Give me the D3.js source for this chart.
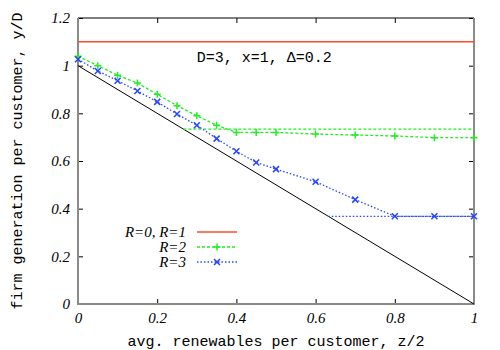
<!DOCTYPE html>
<html>
<head>
<meta charset="utf-8">
<script src="https://cdn.jsdelivr.net/npm/d3@7"></script>
<style>
  body { margin: 0; background: #fff; }
</style>
</head>
<body>
<svg width="500" height="350"></svg>
<script>
'use strict'

// values
var xTicks = [0, 0.2, 0.4, 0.6, 0.8, 1];
var yTicks = [0, 0.2, 0.4, 0.6, 0.8, 1, 1.2];

var zs = [0, 0.05, 0.1, 0.15, 0.2, 0.25, 0.3, 0.35, 0.4, 0.45, 0.5, 0.6, 0.7, 0.8, 0.9, 1];
var r2 = [1.04, 1.0, 0.96, 0.927, 0.88, 0.832, 0.79, 0.75, 0.72, 0.72, 0.72, 0.713, 0.709, 0.705, 0.698, 0.698];
var r3 = [1.027, 0.978, 0.937, 0.894, 0.848, 0.797, 0.75, 0.694, 0.641, 0.594, 0.566, 0.513, 0.438, 0.368, 0.368, 0.368];

var r01 = [[0, 1.1], [1, 1.1]];
var noStorage = [[0, 1], [1, 0]];
var r2Floor = [[0.266, 0.734], [1, 0.734]];
var r3Floor = [[0.632, 0.368], [1, 0.368]];

var legendLabels = ["R=0, R=1", "R=2", "R=3"];

var serif = "'Liberation Serif', 'Times New Roman', serif";
var mono = "'Liberation Mono', 'Courier New', monospace";

var svg = d3.select("svg"),
  margin = {top: 18, right: 26, bottom: 46, left: 78},
  width = +svg.attr("width") - margin.left - margin.right,
  height = +svg.attr("height") - margin.top - margin.bottom;

var x = d3.scaleLinear().domain([0, 1]).range([0, width]),
  y = d3.scaleLinear().domain([0, 1.2]).range([height, 0]);

var g = svg.append("g")
  .attr("transform", "translate(" + margin.left + "," + margin.top + ")");

var fmt = function(d) { return String(+d.toFixed(1)); };

// axes, ticks pointing inward on all four sides
g.append("g")
  .attr("transform", "translate(0," + height + ")")
  .call(d3.axisBottom(x).tickValues(xTicks).tickFormat(fmt).tickSizeInner(-5).tickSizeOuter(0).tickPadding(8));
g.append("g")
  .call(d3.axisLeft(y).tickValues(yTicks).tickFormat(fmt).tickSizeInner(-5).tickSizeOuter(0).tickPadding(8));
g.append("g")
  .call(d3.axisTop(x).tickValues(xTicks).tickFormat("").tickSizeInner(-5).tickSizeOuter(0));
g.append("g")
  .attr("transform", "translate(" + width + ",0)")
  .call(d3.axisRight(y).tickValues(yTicks).tickFormat("").tickSizeInner(-5).tickSizeOuter(0));
g.selectAll(".domain").remove();
g.selectAll(".tick line").attr("stroke", "#000");
g.selectAll(".tick text")
  .attr("fill", "#000")
  .style("font-family", serif)
  .style("font-style", "italic")
  .style("font-size", "15px");

// frame
g.append("line").attr("x1", 0).attr("x2", width).attr("y1", 0).attr("y2", 0)
  .attr("stroke", "#000").attr("stroke-width", 1);
g.append("path")
  .attr("d", "M0,0V" + height + "H" + width + "V0")
  .attr("fill", "none").attr("stroke", "#8a8a8a").attr("stroke-width", 2);

var line = d3.line()
  .x(function(d) { return x(d[0]); })
  .y(function(d) { return y(d[1]); });

var pts2 = zs.map(function(z, i) { return [z, r2[i]]; });
var pts3 = zs.map(function(z, i) { return [z, r3[i]]; });

var red = "#ff4b2b", green = "#22ee22", blue = "#2545ff";

g.append("path").attr("d", line(noStorage))
  .attr("fill", "none").attr("stroke", "#000").attr("stroke-width", 1);

g.append("path").attr("d", line(r01))
  .attr("fill", "none").attr("stroke", red).attr("stroke-width", 1.5);

function drawSeries(pts, floor, color, dash, marker) {
  g.append("path").attr("d", line(floor))
    .attr("fill", "none").attr("stroke", color).attr("stroke-width", 1.3)
    .attr("stroke-dasharray", dash);
  g.append("path").attr("d", line(pts))
    .attr("fill", "none").attr("stroke", color).attr("stroke-width", 1.3)
    .attr("stroke-dasharray", dash);
  g.selectAll(null)
    .data(pts)
    .enter()
    .append("path")
    .attr("transform", function(d) { return "translate(" + x(d[0]) + "," + y(d[1]) + ")"; })
    .attr("d", marker)
    .attr("fill", "none").attr("stroke", color).attr("stroke-width", 1.5);
}

var plus = "M-3.5,0H3.5M0,-3.5V3.5";
var cross = "M-3,-3L3,3M-3,3L3,-3";

drawSeries(pts2, r2Floor, green, "3,2", plus);
drawSeries(pts3, r3Floor, blue, "1.5,2", cross);

// annotation
g.append("text")
  .attr("x", x(0.3))
  .attr("y", y(1.015))
  .style("font-family", mono)
  .style("font-size", "15px")
  .text("D=3, x=1, \u0394=0.2");

// legend
var legendStyles = [
  {color: red, dash: null, marker: null},
  {color: green, dash: "3,2", marker: plus},
  {color: blue, dash: "1.5,2", marker: cross}
];

var legend = g.append("g").attr("transform", "translate(108,214)");
var items = legend.selectAll(".item")
  .data(legendLabels)
  .enter()
  .append("g")
  .attr("class", "item")
  .attr("transform", function(d, i) { return "translate(0," + (i * 15) + ")"; });

items.append("text")
  .attr("text-anchor", "end")
  .attr("dy", "0.32em")
  .style("font-family", serif)
  .style("font-style", "italic")
  .style("font-size", "15px")
  .text(function(d) { return d; });

items.append("line")
  .attr("x1", 11).attr("x2", 51)
  .attr("stroke", function(d, i) { return legendStyles[i].color; })
  .attr("stroke-width", function(d, i) { return i === 0 ? 1.5 : 1.3; })
  .attr("stroke-dasharray", function(d, i) { return legendStyles[i].dash; });

items.filter(function(d, i) { return legendStyles[i].marker; })
  .append("path")
  .attr("transform", "translate(31,0)")
  .attr("d", function(d) { return legendStyles[legendLabels.indexOf(d)].marker; })
  .attr("fill", "none")
  .attr("stroke", function(d) { return legendStyles[legendLabels.indexOf(d)].color; })
  .attr("stroke-width", 1.5);

// axis titles
svg.append("text")
  .attr("text-anchor", "middle")
  .attr("x", margin.left + width / 2)
  .attr("y", 346)
  .style("font-family", mono)
  .style("font-size", "15px")
  .text("avg. renewables per customer, z/2");

svg.append("text")
  .attr("text-anchor", "middle")
  .attr("transform", "translate(22," + (margin.top + height / 2) + ") rotate(-90)")
  .style("font-family", mono)
  .style("font-size", "15px")
  .text("firm generation per customer, y/D");
</script>
</body>
</html>
